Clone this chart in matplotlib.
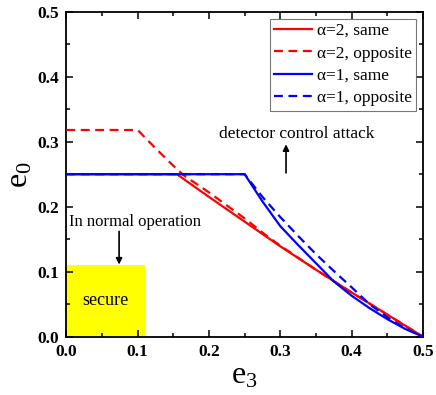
import matplotlib
matplotlib.use("Agg")
import matplotlib.pyplot as plt
from matplotlib.patches import Rectangle
from matplotlib.ticker import MultipleLocator

plt.rcParams['font.family'] = ['Liberation Serif', 'DejaVu Serif']
plt.rcParams['mathtext.fontset'] = 'custom'
plt.rcParams['mathtext.rm'] = 'Liberation Serif'
plt.rcParams['mathtext.it'] = 'Liberation Serif:italic'

# ---- data ----
red_same_e3 = [0.0, 0.155, 0.2, 0.25, 0.3, 0.35, 0.4, 0.45, 0.5]
red_same_e0 = [0.25, 0.25, 0.215, 0.177, 0.139, 0.103, 0.068, 0.034, 0.0]

red_opp_e3 = [0.0, 0.1, 0.125, 0.15, 0.165, 0.2, 0.25, 0.28, 0.3, 0.35, 0.4, 0.45, 0.5]
red_opp_e0 = [0.318, 0.318, 0.290, 0.263, 0.248, 0.222, 0.182, 0.156, 0.140, 0.103, 0.068, 0.034, 0.0]

blue_same_e3 = [0.0, 0.25, 0.275, 0.3, 0.325, 0.35, 0.375, 0.4, 0.425, 0.45, 0.475, 0.5]
blue_same_e0 = [0.25, 0.25, 0.208, 0.170, 0.141, 0.113, 0.085, 0.063, 0.044, 0.027, 0.012, 0.0]

blue_opp_e3 = [0.0, 0.25, 0.275, 0.3, 0.325, 0.35, 0.375, 0.4, 0.425, 0.45, 0.475, 0.5]
blue_opp_e0 = [0.25, 0.25, 0.215, 0.184, 0.155, 0.127, 0.101, 0.076, 0.050, 0.030, 0.013, 0.0]

labels = ["α=2, same", "α=2, opposite", "α=1, same", "α=1, opposite"]

secure_e3 = 0.11
secure_e0 = 0.11

xticks = [0.0, 0.1, 0.2, 0.3, 0.4, 0.5]
yticks = [0.0, 0.1, 0.2, 0.3, 0.4, 0.5]

# ---- figure ----
fig = plt.figure(figsize=(4.36, 3.95), dpi=100)
ax = fig.add_axes([66.3 / 436, (395 - 336.7) / 395, 356.7 / 436, 325 / 395])

ax.add_patch(Rectangle((0, 0), secure_e3, secure_e0, facecolor='#ffff00',
                       edgecolor='none', zorder=1))

lw = 1.6
ax.plot(red_same_e3, red_same_e0, color='#ff0000', lw=lw, label=labels[0], zorder=3)
ax.plot(red_opp_e3, red_opp_e0, color='#ff0000', lw=lw, ls=(0, (4, 2.5)),
        label=labels[1], zorder=3)
ax.plot(blue_same_e3, blue_same_e0, color='#0000ff', lw=lw, label=labels[2], zorder=4)
ax.plot(blue_opp_e3, blue_opp_e0, color='#0000ff', lw=lw, ls=(0, (4, 2.5)),
        label=labels[3], zorder=4)

ax.set_xlim(0, 0.5)
ax.set_ylim(0, 0.5)
ax.set_xticks(xticks)
ax.set_yticks(yticks)
ax.set_xticklabels([f"{v:.1f}" for v in xticks], fontweight='bold', fontsize=12.5)
ax.set_yticklabels([f"{v:.1f}" for v in yticks], fontweight='bold', fontsize=12.5)
ax.xaxis.set_minor_locator(MultipleLocator(0.05))
ax.yaxis.set_minor_locator(MultipleLocator(0.05))
ax.tick_params(which='both', direction='in', top=True, right=True, width=1.1)
ax.tick_params(which='major', length=5, pad=5)
ax.tick_params(which='minor', length=3)
for s in ax.spines.values():
    s.set_linewidth(1.3)

ax.set_xlabel("e$_3$", fontsize=23, labelpad=1)
ax.set_ylabel("e$_0$", fontsize=23, labelpad=2)

ax.text(0.055, 0.056, "secure", ha='center', va='center', fontsize=13, zorder=5)
ax.text(0.004, 0.177, "In normal operation", ha='left', va='center', fontsize=12)
ax.annotate("", xy=(0.074, 0.111), xytext=(0.074, 0.162),
            arrowprops=dict(arrowstyle='-|>', color='black', lw=1.2,
                            mutation_scale=9, shrinkA=0, shrinkB=0))
ax.text(0.214, 0.312, "detector control attack", ha='left', va='center', fontsize=12.5)
ax.annotate("", xy=(0.308, 0.296), xytext=(0.308, 0.252),
            arrowprops=dict(arrowstyle='-|>', color='black', lw=1.2,
                            mutation_scale=9, shrinkA=0, shrinkB=0))

leg = ax.legend(loc='upper right', fontsize=12.5, frameon=True, fancybox=False,
                edgecolor='#555555', handlelength=2.15, handletextpad=0.3,
                labelspacing=0.36, borderaxespad=0.4, borderpad=0.25)
leg.get_frame().set_linewidth(0.8)

fig.savefig("out.png", dpi=100)
